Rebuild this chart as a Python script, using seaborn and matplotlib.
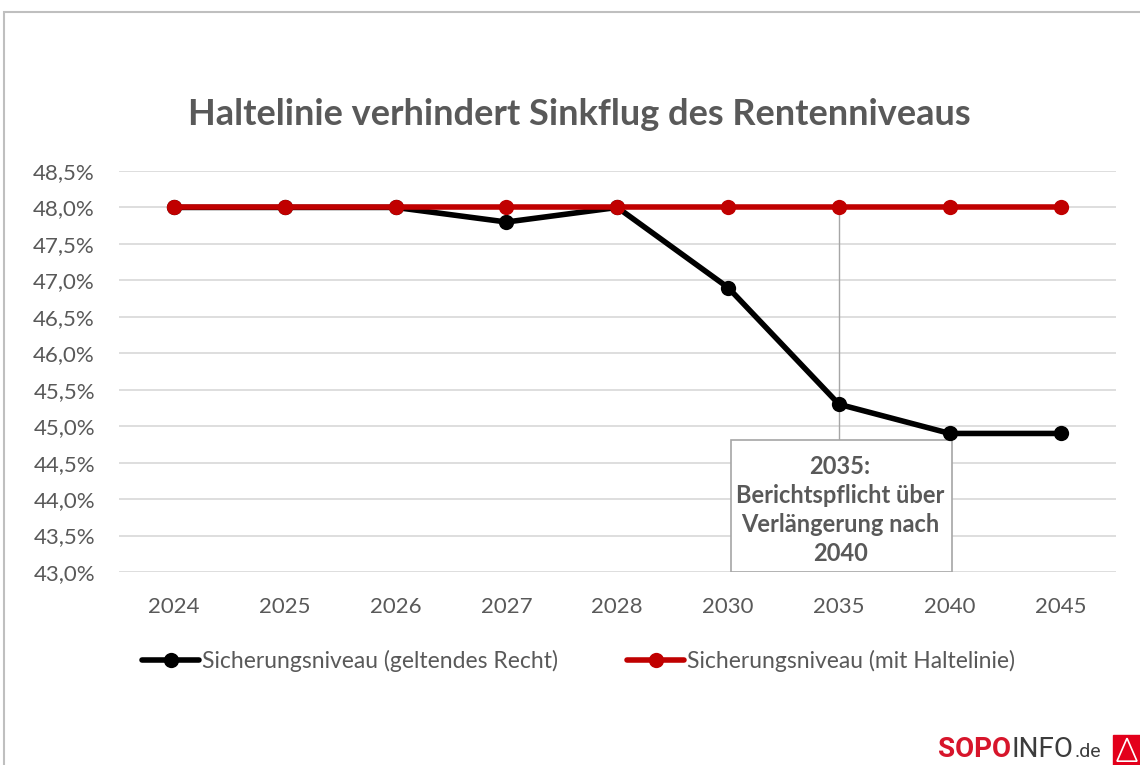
import matplotlib
matplotlib.use("Agg")
import matplotlib.pyplot as plt
from matplotlib.patches import Rectangle, Polygon
from matplotlib.lines import Line2D
from matplotlib.ticker import FuncFormatter, MultipleLocator
import seaborn as sns
import pandas as pd

# Daten
jahre = ["2024", "2025", "2026", "2027", "2028", "2030", "2035", "2040", "2045"]
geltendes_recht = [48.0, 48.0, 48.0, 47.8, 48.0, 46.9, 45.3, 44.9, 44.9]
mit_haltelinie = [48.0, 48.0, 48.0, 48.0, 48.0, 48.0, 48.0, 48.0, 48.0]
serien = ["Sicherungsniveau (geltendes Recht)", "Sicherungsniveau (mit Haltelinie)"]
titel = "Haltelinie verhindert Sinkflug des Rentenniveaus"
hinweis = "2035:\nBerichtspflicht über\nVerlängerung nach\n2040"

GRAU = "#595959"
ROT = "#c00000"

sns.set_theme(style="white")
plt.rcParams["font.family"] = ["Lato", "DejaVu Sans"]

df = pd.DataFrame({"Jahr": jahre * 2,
                   "Wert": geltendes_recht + mit_haltelinie,
                   "Serie": [serien[0]] * len(jahre) + [serien[1]] * len(jahre)})

fig = plt.figure(figsize=(11.4, 7.65), dpi=100)
ax = fig.add_axes([0.104, 0.2523, 0.875, 0.5242])

sns.lineplot(data=df, x="Jahr", y="Wert", hue="Serie", palette=["black", ROT],
             marker="o", markersize=11, markeredgewidth=0, linewidth=4,
             sort=False, legend=False, ax=ax)

ax.set_xlim(-0.5, len(jahre) - 0.5)
ax.set_ylim(43.0, 48.5)
ax.yaxis.set_major_locator(MultipleLocator(0.5))
ax.yaxis.set_major_formatter(FuncFormatter(lambda v, p: f"{v:.1f}%".replace(".", ",")))
ax.grid(axis="y", color="#d4d4d4", linewidth=1.1)
ax.set_axisbelow(True)
for s in ax.spines.values():
    s.set_visible(False)
ax.tick_params(axis="y", length=0, pad=17, labelsize=16, labelcolor=GRAU)
ax.tick_params(axis="x", length=0, pad=18, labelsize=16, labelcolor=GRAU)
ax.set_xlabel("")
ax.set_ylabel("")

# Hinweisbox zu 2035
i35 = jahre.index("2035")
ax.plot([i35, i35], [48.0, 44.81], color="#a6a6a6", linewidth=1, zorder=1)
ax.add_patch(Rectangle((i35 - 0.97, 43.0), 1.99, 1.81, facecolor="white",
                       edgecolor="#a6a6a6", linewidth=1.2, zorder=1.5))
ax.text(i35 + 0.01, 43.85, hinweis, ha="center", va="center", fontsize=17,
        fontweight="bold", color=GRAU, linespacing=1.3, zorder=2)

fig.text(0.508, 0.85, titel, ha="center", va="center", fontsize=26,
         fontweight="bold", color=GRAU)

# Legende
h1 = Line2D([], [], color="black", linewidth=4, marker="o", markersize=11, markeredgewidth=0)
h2 = Line2D([], [], color=ROT, linewidth=4, marker="o", markersize=11, markeredgewidth=0)
kw = dict(loc="center left", frameon=False, fontsize=16.5, handlelength=2.5,
          handletextpad=0.1, borderaxespad=0, borderpad=0)
leg1 = fig.legend([h1], [serien[0]], bbox_to_anchor=(142 / 1140, 0.136), **kw)
leg2 = fig.legend([h2], [serien[1]], bbox_to_anchor=(627 / 1140, 0.136), **kw)
for leg in (leg1, leg2):
    for t in leg.get_texts():
        t.set_color(GRAU)

# Rahmen
fig.patches.append(Rectangle((4 / 1140, -0.1), 1.2, 1 - 12 / 765 + 0.1,
                             transform=fig.transFigure, fill=False,
                             edgecolor="#bfbfbf", linewidth=1.5))

# Logo: Textteile nacheinander setzen
fig.canvas.draw()
r = fig.canvas.get_renderer()
x = 938 / 1140
for teil, farbe, groesse, gewicht in [("SOPO", "#d7152b", 20, "bold"),
                                      ("INFO", "#3c3c3c", 20, "normal"),
                                      (".de", "#3c3c3c", 14, "normal")]:
    t = fig.text(x, 0.0105, teil, color=farbe, fontsize=groesse, fontweight=gewicht,
                 family="Roboto", ha="left", va="baseline")
    bb = t.get_window_extent(renderer=r)
    x += bb.width / fig.bbox.width + 1 / 1140
fig.patches.append(Rectangle((1113 / 1140, 0), 0.03, 30 / 765,
                             transform=fig.transFigure, color="#e3001b"))
fig.patches.append(Polygon([(1117 / 1140, 0.005), (1127 / 1140, 0.035), (1137 / 1140, 0.005)],
                           closed=True, transform=fig.transFigure, fill=False,
                           edgecolor="white", linewidth=1.2))

fig.savefig("out.png", dpi=100)
